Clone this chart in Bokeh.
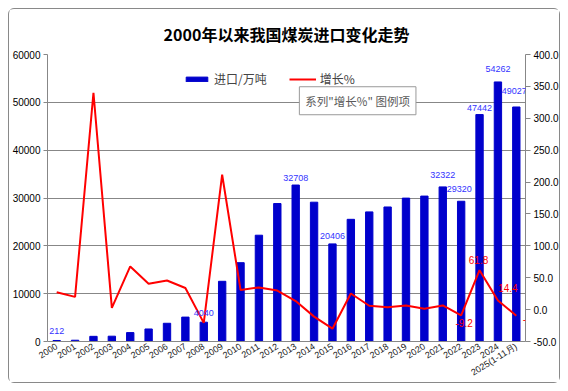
from bokeh.plotting import figure
from bokeh.models import (Range1d, LinearAxis, FixedTicker, NumeralTickFormatter,
                          BasicTickFormatter, ColumnDataSource, LabelSet, Label,
                          Legend, LegendItem)
from bokeh.core.properties import value
from bokeh.embed import file_html
from bokeh.resources import INLINE

# ---------------- data ----------------
years = ["2000", "2001", "2002", "2003", "2004", "2005", "2006", "2007", "2008",
         "2009", "2010", "2011", "2012", "2013", "2014", "2015", "2016", "2017",
         "2018", "2019", "2020", "2021", "2022", "2023", "2024", "2025(1-11月)"]
imports = [212, 266, 1081, 1110, 1861, 2617, 3811, 5102, 4040, 12584, 16478,
           22220, 28841, 32708, 29122, 20406, 25543, 27093, 28123, 29977, 30399,
           32322, 29320, 47442, 54262, 49027]
growth = [27.3, 20.0, 340.0, 2.7, 67.7, 40.6, 45.6, 33.9, -20.8, 211.5, 30.9,
          34.8, 29.8, 13.4, -11.0, -29.9, 25.2, 6.1, 3.8, 6.6, 1.4, 6.6, -9.2,
          61.8, 14.4, -9.6]
left_ticks = [0, 10000, 20000, 30000, 40000, 50000, 60000]
right_ticks = [-50, 0, 50, 100, 150, 200, 250, 300, 350, 400]
bar_label_years = ["2000", "2008", "2013", "2015", "2021", "2022", "2023", "2024", "2025(1-11月)"]
line_label_years = ["2022", "2023", "2024", "2025(1-11月)"]
title_text = "2000年以来我国煤炭进口变化走势"

# ---------------- style ----------------
BLUE = "#0000cc"
RED = "#ff0000"
GRID = "#878787"
NUM_FONT = "Liberation Sans"
CJK_FONT = "Noto Sans CJK SC"
bar_label_gap = {"2000": 6, "2008": 6, "2013": 4, "2015": 5, "2021": 9, "2022": 9,
                 "2023": 4, "2024": 10, "2025(1-11月)": 13}
bar_label_dx = {"2022": -2, "2025(1-11月)": -2}
line_label_off = {"2022": (3, -8), "2023": (-1, 10), "2024": (10, 12), "2025(1-11月)": (15, -3)}

xs = list(range(len(years)))
src = ColumnDataSource(dict(x=xs, year=years, imports=imports, growth=growth))

p = figure(width=552, height=375, output_backend="svg", toolbar_location=None,
           x_range=Range1d(-0.5, len(years) - 0.5), y_range=Range1d(left_ticks[0], left_ticks[-1]),
           min_border_left=36, min_border_right=36, min_border_top=45, min_border_bottom=41)
p.extra_y_ranges = {"right": Range1d(right_ticks[0], right_ticks[-1])}
p.background_fill_color = "white"
p.border_fill_color = "white"
p.outline_line_color = None
p.styles = {"margin": "8px", "border": "1px solid #898989", "border-radius": "6px"}

p.title.text = title_text
p.title.align = "center"
p.title.offset = -7
p.title.text_font = CJK_FONT
p.title.text_font_size = "16px"
p.title.text_font_style = "bold"
p.title.text_color = "black"
p.title.standoff = 18

bars = p.vbar(x="x", top="imports", width=0.4, source=src, fill_color=BLUE, line_color=BLUE)
line = p.line(x="x", y="growth", source=src, y_range_name="right", line_color=RED, line_width=2)

# axes
p.xgrid.visible = False
p.ygrid.ticker = FixedTicker(ticks=left_ticks)
p.ygrid.grid_line_color = GRID

xa = p.xaxis[0]
xa.ticker = FixedTicker(ticks=xs)
xa.major_label_overrides = {i: y for i, y in zip(xs, years)}
xa.major_label_orientation = 0.56
xa.major_label_standoff = 4
xa.axis_line_color = GRID
xa.major_tick_line_color = None
xa.major_tick_out = 0
xa.major_tick_in = 0
xa.minor_tick_line_color = None
xa.minor_tick_out = 0
xa.major_label_text_font = NUM_FONT
xa.major_label_text_font_size = "9px"
xa.major_label_text_color = "#1a1a1a"

ya = p.yaxis[0]
ya.ticker = FixedTicker(ticks=left_ticks)
ya.formatter = BasicTickFormatter(use_scientific=False)
ya.axis_line_color = GRID
ya.major_tick_line_color = GRID
ya.major_tick_out = 4
ya.major_tick_in = 0
ya.minor_tick_line_color = None
ya.major_label_standoff = 3
ya.major_label_text_font = NUM_FONT
ya.major_label_text_font_size = "10px"
ya.major_label_text_color = "black"

ra = LinearAxis(y_range_name="right", ticker=FixedTicker(ticks=right_ticks),
                formatter=NumeralTickFormatter(format="0.0"))
ra.axis_line_color = GRID
ra.major_tick_line_color = GRID
ra.major_tick_out = 5
ra.major_tick_in = 0
ra.minor_tick_line_color = None
ra.major_label_standoff = 3
ra.major_label_text_font = NUM_FONT
ra.major_label_text_font_size = "10px"
ra.major_label_text_color = "black"
p.add_layout(ra, "right")

# bar data labels
bl_idx = [years.index(y) for y in bar_label_years]
bl_src = ColumnDataSource(dict(
    x=[xs[i] for i in bl_idx], y=[imports[i] for i in bl_idx],
    t=[str(imports[i]) for i in bl_idx],
    dy=[bar_label_gap[years[i]] for i in bl_idx],
    dx=[bar_label_dx.get(years[i], 0) for i in bl_idx]))
p.add_layout(LabelSet(x="x", y="y", text="t", source=bl_src, x_offset="dx", y_offset="dy",
                      text_align="center", text_baseline="alphabetic",
                      text_font=value(NUM_FONT), text_font_size="9px", text_color="#3333ff"))

# line data labels
ll_idx = [years.index(y) for y in line_label_years]
ll_src = ColumnDataSource(dict(
    x=[xs[i] for i in ll_idx], y=[growth[i] for i in ll_idx],
    t=["%.1f" % growth[i] for i in ll_idx],
    dx=[line_label_off[years[i]][0] for i in ll_idx],
    dy=[line_label_off[years[i]][1] for i in ll_idx]))
p.add_layout(LabelSet(x="x", y="y", text="t", source=ll_src, y_range_name="right",
                      x_offset="dx", y_offset="dy", text_align="center", text_baseline="middle",
                      text_font=value(NUM_FONT), text_font_size="10px", text_color=RED))

# legend
legend = Legend(items=[LegendItem(label="进口/万吨", renderers=[bars]),
                       LegendItem(label="增长%", renderers=[line])],
                orientation="horizontal", location=(136, 254), padding=0, margin=0,
                spacing=22, label_standoff=4, glyph_width=27, glyph_height=6,
                border_line_color=None, background_fill_alpha=0,
                label_text_font=CJK_FONT, label_text_font_size="12px", label_height=12)
p.add_layout(legend)

# legend tooltip box
tip = '系列"增长%" 图例项'
p.add_layout(Label(x=13.2, y=50332, text=tip, x_offset=3, y_offset=-3,
                   text_align="left", text_baseline="middle", text_alpha=0,
                   text_font=CJK_FONT, text_font_size="11.5px", padding=6,
                   background_fill_color="#c8c8c8", background_fill_alpha=0.8))
p.add_layout(Label(x=13.2, y=50332, text=tip,
                   text_align="left", text_baseline="middle", text_color="#595959",
                   text_font=CJK_FONT, text_font_size="11.5px", padding=6,
                   background_fill_color="white", border_line_color="#9a9a9a"))

open("out.html", "w").write(file_html(p, INLINE))
